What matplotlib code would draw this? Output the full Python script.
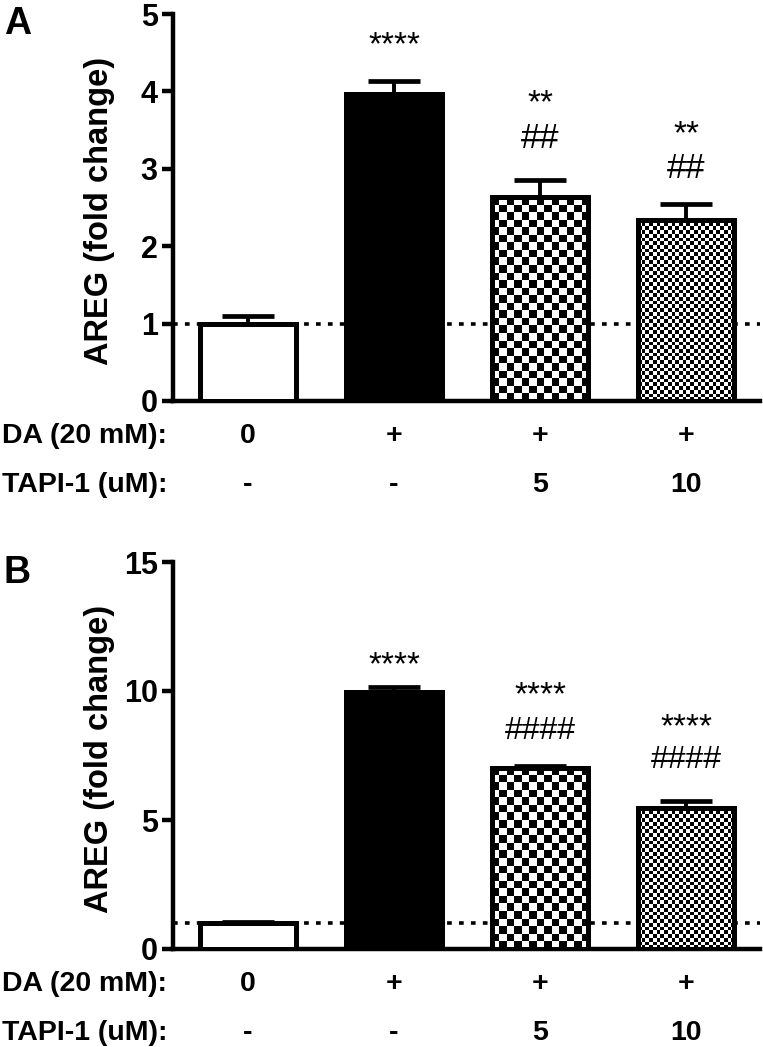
import numpy as np
import matplotlib
matplotlib.use("Agg")
import matplotlib.pyplot as plt
from matplotlib.transforms import blended_transform_factory

plt.rcParams['font.family'] = ['Liberation Sans', 'DejaVu Sans']

# ---------------- data ----------------
da_labels = ["0", "+", "+", "+"]
tapi_labels = ["-", "-", "5", "10"]

a_values = [1.0, 3.97, 2.63, 2.34]
a_errors = [0.10, 0.17, 0.22, 0.21]
a_stars = ["", "****", "**", "**"]
a_stars_y = [None, 4.73, 3.98, 3.58]
a_hash = ["", "", "##", "##"]
a_hash_y = [None, None, 3.42, 3.03]

b_values = [1.0, 9.96, 7.02, 5.47]
b_errors = [0.03, 0.20, 0.08, 0.28]
b_stars = ["", "****", "****", "****"]
b_stars_y = [None, 11.4, 10.23, 9.0]
b_hash = ["", "", "####", "####"]
b_hash_y = [None, None, 8.57, 7.44]

# ---------------- layout ----------------
W, H = 763, 1047
fig = plt.figure(figsize=(W / 100, H / 100), dpi=100)

def px_axes(left, top, right, bottom):
    return fig.add_axes([left / W, 1 - bottom / H, (right - left) / W, (bottom - top) / H])

axA = px_axes(173, 14, 760, 401)
axB = px_axes(173, 562, 760, 949)

x = np.arange(4)
bar_w = 0.66
XLIM = (-0.514, 3.507)
cell_px = [None, None, 7.5, 3.7]
fills = ['white', 'black', 'checker', 'checker']


def ink_text(ax, xx, yy, s, size, weight, frac, transform=None, ha='center'):
    """Place text so that its ink centre sits at yy; frac = ink centre above baseline (em)."""
    if transform is None:
        transform = ax.transData
    ax.annotate(s, xy=(xx, yy), xycoords=transform, xytext=(0, -frac * size),
                textcoords='offset points', ha=ha, va='baseline',
                fontsize=size, fontweight=weight, annotation_clip=False)


def panel(ax, values, errors, ymax, yticks, stars, stars_y, hashes, hashes_y, hash_size):
    ax.set_xlim(*XLIM)
    ax.set_ylim(0, ymax)
    ax.axhline(1, color='black', lw=2.6, ls=(0, (1.3, 2.0)), zorder=1)
    ax.errorbar(x, values, yerr=[np.zeros(4), errors], fmt='none', ecolor='black',
                elinewidth=2.8, capsize=19, capthick=3.4, zorder=2)
    for i in range(4):
        face = fills[i] if fills[i] != 'checker' else 'white'
        bar = ax.bar(x[i], values[i], bar_w, color=face, edgecolor='black',
                     linewidth=3.6, zorder=3)[0]
        if fills[i] == 'checker':
            # checker texture clipped to the bar
            p0 = ax.transData.transform((x[i] - bar_w / 2, 0))
            p1 = ax.transData.transform((x[i] + bar_w / 2, values[i]))
            ncols = max(1, int(round((p1[0] - p0[0]) / cell_px[i])))
            nrows = max(1, int(round((p1[1] - p0[1]) / cell_px[i])))
            tex = np.indices((nrows, ncols)).sum(axis=0) % 2
            im = ax.imshow(tex, cmap='gray', interpolation='nearest', aspect='auto',
                           extent=(x[i] - bar_w / 2, x[i] + bar_w / 2, 0, values[i]),
                           zorder=3.5, vmin=0, vmax=1)
            im.set_clip_path(bar)
            ax.bar(x[i], values[i], bar_w, fill=False, edgecolor='black',
                   linewidth=3.6, zorder=4)
    ax.set_xlim(*XLIM)
    ax.set_ylim(0, ymax)

    for i in range(4):
        if stars[i]:
            ink_text(ax, x[i], stars_y[i], stars[i], 24, 'normal', 0.58)
        if hashes[i]:
            ink_text(ax, x[i], hashes_y[i], hashes[i], hash_size, 'normal', 0.345)

    for side in ['top', 'right']:
        ax.spines[side].set_visible(False)
    for side in ['left', 'bottom']:
        ax.spines[side].set_linewidth(3.2)
    ax.set_xticks([])
    ax.set_yticks(yticks)
    ax.tick_params(axis='y', direction='out', length=8, width=3.2, pad=3,
                   labelsize=22)
    for lab in ax.get_yticklabels():
        lab.set_fontweight('bold')
    ax.set_ylabel("AREG (fold change)", fontsize=23.5, fontweight='bold')
    ax.yaxis.set_label_coords(-0.099, 0.49)

    trans = blended_transform_factory(ax.transData, ax.transAxes)
    for i in range(4):
        ax.text(x[i], -0.1085, da_labels[i], transform=trans, ha='center', va='baseline',
                fontsize=20.5, fontweight='bold')
        ax.text(x[i], -0.235, tapi_labels[i], transform=trans, ha='center', va='baseline',
                fontsize=20.5, fontweight='bold')
    ax.text(-0.0102, -0.1085, "DA (20 mM):", transform=ax.transAxes, ha='right',
            va='baseline', fontsize=20.5, fontweight='bold')
    ax.text(-0.0102, -0.235, "TAPI-1 (uM):", transform=ax.transAxes, ha='right',
            va='baseline', fontsize=20.5, fontweight='bold')


panel(axA, a_values, a_errors, 5, [0, 1, 2, 3, 4, 5], a_stars, a_stars_y, a_hash, a_hash_y, 25)
panel(axB, b_values, b_errors, 15, [0, 5, 10, 15], b_stars, b_stars_y, b_hash, b_hash_y, 23)

fig.text(4 / W, 1 - 34 / H, "A", fontsize=27, fontweight='bold', ha='left', va='baseline')
fig.text(4 / W, 1 - 583 / H, "B", fontsize=27, fontweight='bold', ha='left', va='baseline')

fig.savefig("out.png", dpi=100)
